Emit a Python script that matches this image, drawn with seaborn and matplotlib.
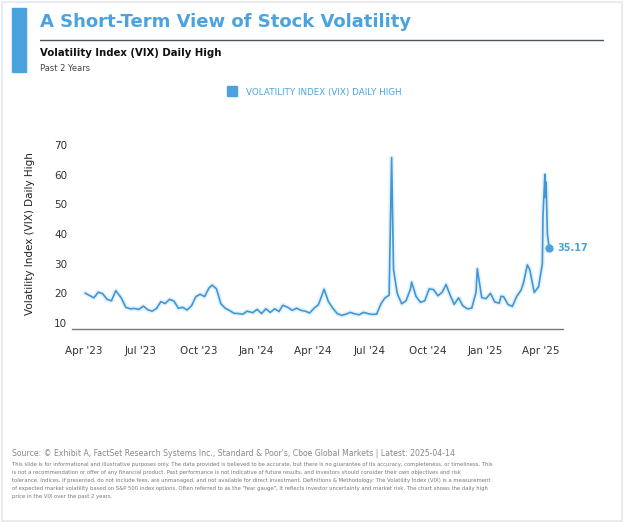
import matplotlib
matplotlib.use("Agg")
import matplotlib.pyplot as plt
import matplotlib.dates as mdates
import seaborn as sns
import pandas as pd

dates = ["2023-04-03","2023-04-10","2023-04-17","2023-04-24","2023-05-01","2023-05-08","2023-05-15","2023-05-22","2023-05-31","2023-06-07","2023-06-14","2023-06-21","2023-06-28","2023-07-05","2023-07-12","2023-07-19","2023-07-26","2023-08-02","2023-08-09","2023-08-16","2023-08-23","2023-08-30","2023-09-06","2023-09-13","2023-09-20","2023-09-27","2023-10-04","2023-10-11","2023-10-18","2023-10-23","2023-10-30","2023-11-06","2023-11-13","2023-11-20","2023-11-27","2023-12-04","2023-12-11","2023-12-18","2023-12-27","2024-01-03","2024-01-10","2024-01-17","2024-01-24","2024-01-31","2024-02-07","2024-02-13","2024-02-21","2024-02-28","2024-03-06","2024-03-13","2024-03-20","2024-03-27","2024-04-03","2024-04-10","2024-04-16","2024-04-19","2024-04-26","2024-05-03","2024-05-10","2024-05-17","2024-05-24","2024-05-31","2024-06-07","2024-06-14","2024-06-21","2024-06-28","2024-07-05","2024-07-12","2024-07-19","2024-07-25","2024-08-01","2024-08-05","2024-08-08","2024-08-14","2024-08-21","2024-08-28","2024-09-04","2024-09-06","2024-09-13","2024-09-20","2024-09-27","2024-10-04","2024-10-11","2024-10-18","2024-10-25","2024-10-31","2024-11-06","2024-11-13","2024-11-20","2024-11-27","2024-12-04","2024-12-11","2024-12-18","2024-12-20","2024-12-27","2025-01-03","2025-01-10","2025-01-17","2025-01-24","2025-01-27","2025-01-31","2025-02-07","2025-02-14","2025-02-21","2025-02-28","2025-03-04","2025-03-10","2025-03-14","2025-03-21","2025-03-28","2025-04-03","2025-04-04","2025-04-07","2025-04-08","2025-04-09","2025-04-11","2025-04-14"]
vix = [20.1,19.3,18.5,20.4,19.9,18.0,17.5,20.9,18.4,15.3,14.8,14.9,14.6,15.7,14.5,14.0,14.9,17.2,16.6,18.0,17.4,15.0,15.3,14.4,15.8,18.9,19.7,18.9,21.8,22.8,21.5,16.5,15.0,14.2,13.3,13.2,13.0,14.0,13.5,14.6,13.2,14.8,13.6,14.8,13.9,16.0,15.3,14.3,15.0,14.3,14.0,13.4,15.0,16.2,19.6,21.4,17.2,15.0,13.2,12.6,13.0,13.6,13.1,12.8,13.6,13.2,12.9,13.0,16.5,18.4,19.4,65.7,28.0,20.0,16.5,17.5,21.4,23.8,19.0,17.0,17.5,21.5,21.3,19.2,20.4,23.0,19.7,16.3,18.5,15.8,14.8,15.0,20.4,28.3,18.6,18.2,20.0,17.1,16.7,19.0,18.9,16.3,15.6,19.0,21.1,23.7,29.6,27.9,20.3,22.3,30.0,45.9,60.1,52.3,57.5,40.0,35.17]

df = pd.DataFrame({"date": pd.to_datetime(dates), "vix": vix})
blue = "#4aa3df"

sns.set_theme(style="white")
plt.rcParams['font.family'] = ['DejaVu Sans']

fig = plt.figure(figsize=(6.24, 5.23), dpi=100)
fig.patches.append(plt.Rectangle((0.003, 0.004), 0.994, 0.992, transform=fig.transFigure, fill=False, ec="#e4e8ec", lw=1.2))
fig.patches.append(plt.Rectangle((12/624, 1-72/523), 14/624, 64/523, transform=fig.transFigure, color=blue))
fig.add_artist(plt.Line2D([40/624, 603/624], [1-40/523, 1-40/523], transform=fig.transFigure, color="#4a5560", lw=1))
fig.text(40/624, 1-22/523, "A Short-Term View of Stock Volatility", color=blue, fontsize=13, fontweight="bold", va="center")
fig.text(40/624, 1-53/523, "Volatility Index (VIX) Daily High", color="#111111", fontsize=7.3, fontweight="bold", va="center")
fig.text(40/624, 1-69/523, "Past 2 Years", color="#444444", fontsize=6.0, va="center")

ax = fig.add_axes([72/624, 1-329/523, 491/624, 190/523])
sns.lineplot(data=df, x="date", y="vix", ax=ax, color=blue, lw=3.5, alpha=0.15, legend=False)
sns.lineplot(data=df, x="date", y="vix", ax=ax, color="#3f97d6", lw=1.2, label="VOLATILITY INDEX (VIX) DAILY HIGH")
last = df.iloc[-1]
ax.plot(last["date"], last["vix"], "o", color=blue, ms=5)
ax.annotate(f"{last['vix']:.2f}", (last["date"], last["vix"]), xytext=(6, 0), textcoords="offset points",
            color=blue, fontsize=7, fontweight="bold", va="center")

ax.set_ylim(8, 72)
ax.set_yticks([10, 20, 30, 40, 50, 60, 70])
ax.set_xlim(pd.Timestamp("2023-03-13"), pd.Timestamp("2025-05-06"))
ax.set_xticks(pd.to_datetime(["2023-04-01","2023-07-01","2023-10-01","2024-01-01","2024-04-01","2024-07-01","2024-10-01","2025-01-01","2025-04-01"]))
ax.xaxis.set_major_formatter(mdates.DateFormatter("%b '%y"))
ax.tick_params(labelsize=7.5, colors="#333333", length=0)
ax.tick_params(axis="x", pad=12)
ax.set_xlabel("")
ax.set_ylabel("Volatility Index (VIX) Daily High", fontsize=7.5, color="#222222", labelpad=14)
for s in ["top", "right", "left"]:
    ax.spines[s].set_visible(False)
ax.spines["bottom"].set_color("#777777")
ax.spines["bottom"].set_linewidth(1)

h, l = ax.get_legend_handles_labels()
leg = fig.legend([plt.Line2D([], [], marker="s", ls="", color=blue, ms=7)], [l[-1]], loc="center",
                 bbox_to_anchor=(0.5, 1-92/523), frameon=False, fontsize=6.3, handletextpad=0.6)
for t in leg.get_texts():
    t.set_color(blue)
if ax.get_legend():
    ax.get_legend().remove()

fig.text(12/624, 1-454/523, "Source: © Exhibit A, FactSet Research Systems Inc., Standard & Poor's, Cboe Global Markets | Latest: 2025-04-14",
         fontsize=5.6, color="#888888", va="center")
foot = ("This slide is for informational and illustrative purposes only. The data provided is believed to be accurate, but there is no guarantee of its accuracy, completeness, or timeliness. This\n"
        "is not a recommendation or offer of any financial product. Past performance is not indicative of future results, and investors should consider their own objectives and risk\n"
        "tolerance. Indices, if presented, do not include fees, are unmanaged, and not available for direct investment. Definitions & Methodology: The Volatility Index (VIX) is a measurement\n"
        "of expected market volatility based on S&P 500 index options. Often referred to as the \"fear gauge\", it reflects investor uncertainty and market risk. The chart shows the daily high\n"
        "price in the VIX over the past 2 years.")
fig.text(12/624, 1-462/523, foot, fontsize=3.75, color="#777777", va="top", linespacing=1.75)

fig.savefig("out.png", dpi=100)
